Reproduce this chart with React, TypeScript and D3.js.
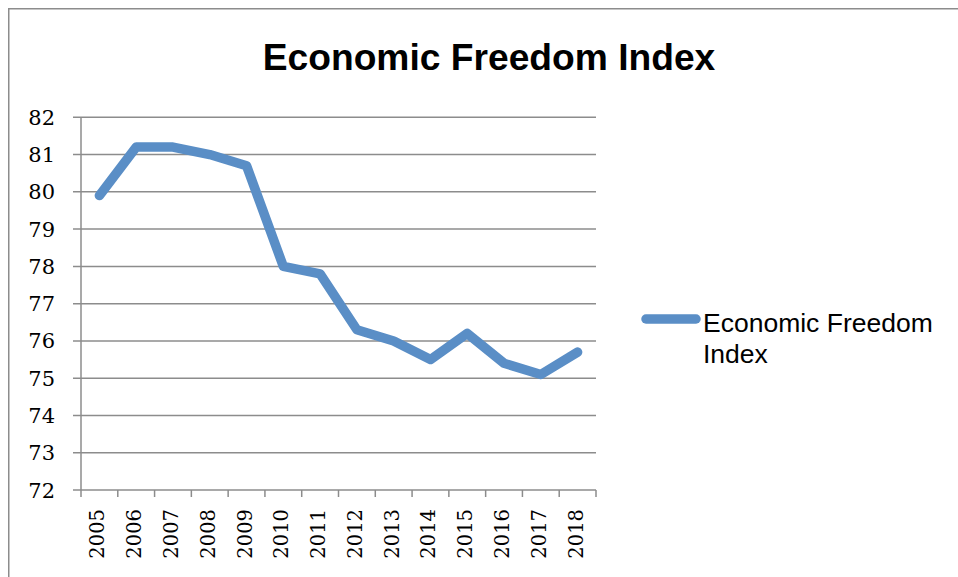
import React from "react";
import * as d3 from "d3";

const years = ["2005","2006","2007","2008","2009","2010","2011","2012","2013","2014","2015","2016","2017","2018"];
const values = [79.9, 81.2, 81.2, 81.0, 80.7, 78.0, 77.8, 76.3, 76.0, 75.5, 76.2, 75.4, 75.1, 75.7];
const yTicks = [72, 73, 74, 75, 76, 77, 78, 79, 80, 81, 82];
const seriesName = ["Economic Freedom", "Index"];
const title = "Economic Freedom Index";

const W = 958, H = 577;
const plot = { left: 81, right: 596, top: 117.3, bottom: 490 };
const lineColor = "#5a8ec6";
const gridColor = "#8c8c8c";

export default function App() {
  const x = d3.scaleBand<string>().domain(years).range([plot.left, plot.right]).paddingInner(0).paddingOuter(0);
  const y = d3.scaleLinear().domain([72, 82]).range([plot.bottom, plot.top]);
  const line = d3.line<number>()
    .x((_, i) => (x(years[i]) as number) + x.bandwidth() / 2)
    .y((d) => y(d));
  const boundaries = years.map((yr) => x(yr) as number).concat([plot.right]);

  return (
    <svg width={W} height={H} style={{ position: "absolute", left: 0, top: 0, background: "#fff" }}>
      <rect x={0} y={0} width={W} height={H} fill="#fff" />
      <rect x={8.75} y={8.75} width={W + 20} height={H + 20} fill="none" stroke={gridColor} strokeWidth={1.5} />
      <text x={489} y={70} textAnchor="middle" fontFamily="'Liberation Sans', Arial, sans-serif" fontWeight="bold" fontSize={37.2} fill="#000">{title}</text>
      {yTicks.map((t) => (
        <g key={t}>
          <line x1={plot.left - 8} x2={plot.right} y1={y(t)} y2={y(t)} stroke={gridColor} strokeWidth={1.5} />
          <text x={55} y={y(t)} dy="0.36em" textAnchor="end" fontFamily="'DejaVu Serif', serif" fontSize={21} fill="#000">{t}</text>
        </g>
      ))}
      <line x1={plot.left} x2={plot.left} y1={plot.top} y2={plot.bottom} stroke={gridColor} strokeWidth={1.5} />
      {boundaries.map((bx, i) => (
        <line key={i} x1={bx} x2={bx} y1={plot.bottom} y2={plot.bottom + 7} stroke={gridColor} strokeWidth={1.5} />
      ))}
      {years.map((yr) => {
        const cx = (x(yr) as number) + x.bandwidth() / 2;
        return (
          <text key={yr} transform={`translate(${cx + 5},${plot.bottom + 19}) rotate(-90)`} textAnchor="end"
            fontFamily="'DejaVu Serif', serif" fontSize={19.5} fill="#000">{yr}</text>
        );
      })}
      <path d={line(values) || ""} fill="none" stroke={lineColor} strokeWidth={9.5} strokeLinejoin="round" strokeLinecap="round" />
      <line x1={646} x2={696} y1={319} y2={319} stroke={lineColor} strokeWidth={9.5} strokeLinecap="round" />
      <text x={703} y={332} fontFamily="'Liberation Sans', Arial, sans-serif" fontSize={26.5} fill="#000">
        <tspan x={703}>{seriesName[0]}</tspan>
        <tspan x={703} dy={31}>{seriesName[1]}</tspan>
      </text>
    </svg>
  );
}
